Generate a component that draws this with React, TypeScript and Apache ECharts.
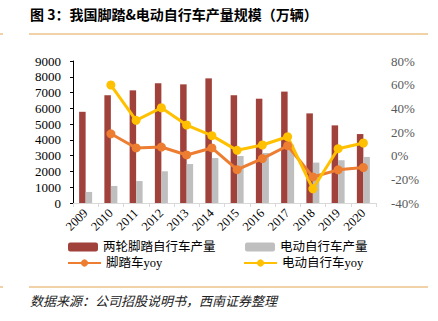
import React, { useEffect, useRef } from "react";
import * as echarts from "echarts";

const years = ["2009", "2010", "2011", "2012", "2013", "2014", "2015", "2016", "2017", "2018", "2019", "2020"];
const bikeOutput = [5780, 6830, 7140, 7590, 7520, 7900, 6830, 6610, 7060, 5680, 4920, 4370];
const ebikeOutput = [700, 1080, 1390, 2010, 2470, 2850, 2980, 3170, 3700, 2560, 2710, 2920];
const bikeYoy = [null, 18.5, 6.5, 7.3, 0.6, 6.5, -11.8, -2.5, 8.4, -18, -12, -10];
const ebikeYoy = [null, 59.7, 29.9, 40.5, 25.9, 16.9, 4.5, 9, 16, -28, 5.9, 10.7];
const leftTicks = [0, 9000, 1000];
const rightTicks = [-40, 80, 20];

const SERIF = "'Liberation Serif', 'Times New Roman', serif";
const CJK = "'Noto Sans CJK SC', sans-serif";

export default function App() {
  const ref = useRef<HTMLDivElement>(null);
  useEffect(() => {
    if (!ref.current) return;
    const chart = echarts.init(ref.current, null, { renderer: "svg" });
    const legendText = { fontFamily: "'Liberation Serif', 'Noto Sans CJK SC', serif", fontSize: 12.5, lineHeight: 14, color: "#000" };
    const mkLegend = (name: string, left: number, top: number, w: number, h: number) => ({
      data: [name],
      left,
      top,
      itemWidth: w,
      itemHeight: h,
      itemGap: 0,
      padding: 0,
      textStyle: legendText,
      selectedMode: false,
    });
    chart.setOption({
      animation: false,
      backgroundColor: "#fff",
      graphic: [
        { type: "text", left: 30, top: 7, style: { text: "图 3：我国脚踏&电动自行车产量规模（万辆）", font: "bold 14px " + CJK, fill: "#000" } },
        { type: "line", shape: { x1: 29, y1: 34, x2: 428, y2: 34 }, style: { stroke: "#E3A34F", lineWidth: 1 } },
        { type: "line", shape: { x1: 0, y1: 34, x2: 3, y2: 34 }, style: { stroke: "#E3A34F", lineWidth: 1 } },
        { type: "line", shape: { x1: 29, y1: 287, x2: 428, y2: 287 }, style: { stroke: "#E3A34F", lineWidth: 1 } },
        { type: "line", shape: { x1: 0, y1: 287, x2: 3, y2: 287 }, style: { stroke: "#E3A34F", lineWidth: 1 } },
        { type: "text", left: 30, top: 294, style: { text: "数据来源：公司招股说明书，西南证券整理", font: "italic 13px " + CJK, fill: "#222" } },
      ],
      legend: [
        mkLegend("两轮脚踏自行车产量", 68, 240, 30, 9),
        mkLegend("电动自行车产量", 245, 240, 30, 9),
        mkLegend("脚踏车yoy", 67, 256, 33, 9),
        mkLegend("电动自行车yoy", 243, 256, 33, 9),
      ],
      grid: { left: 73, right: 62, top: 61, bottom: 118, containLabel: false },
      xAxis: {
        type: "category",
        data: years,
        axisLine: { lineStyle: { color: "#D9D9D9" } },
        axisTick: { show: true, alignWithLabel: false, lineStyle: { color: "#D9D9D9" }, length: 4 },
        axisLabel: { rotate: 45, fontFamily: SERIF, fontSize: 12.5, color: "#000", margin: 8 },
      },
      yAxis: [
        {
          type: "value",
          min: leftTicks[0],
          max: leftTicks[1],
          interval: leftTicks[2],
          axisLine: { show: true, lineStyle: { color: "#000" } },
          axisTick: { show: true, length: 3, lineStyle: { color: "#000" } },
          splitLine: { show: false },
          axisLabel: { fontFamily: SERIF, fontSize: 13, color: "#000", margin: 12, formatter: (v: number) => String(v) },
        },
        {
          type: "value",
          min: rightTicks[0],
          max: rightTicks[1],
          interval: rightTicks[2],
          axisLine: { show: false },
          axisTick: { show: false },
          splitLine: { show: false },
          axisLabel: { fontFamily: SERIF, fontSize: 13, color: "#595959", margin: 15, formatter: "{value}%" },
        },
      ],
      series: [
        { name: "两轮脚踏自行车产量", type: "bar", data: bikeOutput, barWidth: 6.5, barGap: "0%", itemStyle: { color: "#A0413B" } },
        { name: "电动自行车产量", type: "bar", data: ebikeOutput, barWidth: 6.5, barGap: "0%", itemStyle: { color: "#BFBFBF" } },
        {
          name: "脚踏车yoy", type: "line", yAxisIndex: 1, data: bikeYoy, symbol: "circle", symbolSize: 9,
          lineStyle: { color: "#ED7D31", width: 3 }, itemStyle: { color: "#ED7D31" },
        },
        {
          name: "电动自行车yoy", type: "line", yAxisIndex: 1, data: ebikeYoy, symbol: "circle", symbolSize: 9,
          lineStyle: { color: "#FFC000", width: 3 }, itemStyle: { color: "#FFC000" },
        },
      ],
    });
    return () => chart.dispose();
  }, []);
  return <div ref={ref} style={{ width: 438, height: 321, position: "absolute", left: 0, top: 0 }} />;
}
